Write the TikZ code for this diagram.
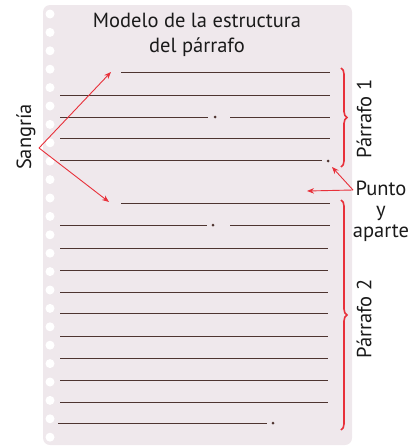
\documentclass[tikz,border=0pt]{standalone}
\usepackage{fontspec}
\setmainfont{PT Sans}
\usepackage{tikz}
\usetikzlibrary{arrows.meta,positioning,decorations.pathreplacing}
\definecolor{paper}{HTML}{EFE8EC}
\definecolor{qink}{HTML}{4E3430}
\definecolor{qred}{HTML}{E8303A}
\definecolor{qtext}{HTML}{1A1A1A}
\tikzset{
    rule/.style={qink, line width=0.8pt},
    mark dot/.style={fill=qink},
    pointer/.style={qred, line width=0.9pt, -{Stealth[length=7pt,width=5.5pt]}},
    bracket/.style={qred, line width=1.6pt, decorate, decoration={brace, amplitude=6pt}},
    label/.style={text=qtext, font=\fontsize{20.5}{21}\selectfont, inner sep=0pt}
}

\begin{document}
\begin{tikzpicture}[x=1pt, y=-1pt]
    \useasboundingbox (0,0) rectangle (419,447);
    % Sheet
    \fill[paper, rounded corners=7pt] (43,5) rectangle (352,445);
    \foreach \i in {0,...,23} {
        \fill[white] (50,14+18.4*\i) circle (4.5);
    }
    % Title
    \node[text=qtext, font=\fontsize{20.5}{25}\selectfont, align=center] (title) at (197,35) {Modelo de la estructura\\del párrafo};
    % Paragraph 1
    \draw[rule] (121,72) -- (330,72);
    \draw[rule] (60,95) -- (330,95);
    \draw[rule] (60,117) -- (208,117); \fill[mark dot] (215,117) circle (1.5); \draw[rule] (230,117) -- (330,117);
    \draw[rule] (60,138) -- (330,138);
    \draw[rule] (60,160) -- (322,160); \fill[mark dot] (328,161) circle (1.5);
    % Paragraph 2
    \draw[rule] (121,203) -- (330,203);
    \draw[rule] (60,225) -- (207,225); \fill[mark dot] (213,225) circle (1.5); \draw[rule] (230,225) -- (330,225);
    \foreach \y in {248,270,292,313,336,358,380,402} {
        \draw[rule] (60,\y) -- (328,\y);
    }
    \draw[rule] (58,423) -- (267,423); \fill[mark dot] (273,423) circle (1.5);
    % Braces
    \draw[bracket] (341,68) -- (341,167);
    \draw[bracket] (341,200) -- (341,430);
    \node[label, rotate=90] (par1) at (364,119) {Párrafo 1};
    \node[label, rotate=90] (par2) at (364,319) {Párrafo 2};
    % Sangria
    \node[label, rotate=90] (sangria) at (26,137) {Sangría};
    \coordinate (sg) at (39,148);
    \coordinate (ind1) at (111,72);
    \coordinate (ind2) at (109,202);
    \draw[pointer] (sg) -- (ind1);
    \draw[pointer] (sg) -- (ind2);
    % Punto y aparte
    \node[label, align=center] (punto) at (381,211) {Punto\\y\\aparte};
    \coordinate (pa) at (353,190);
    \coordinate (dot1) at (332,167);
    \coordinate (gap) at (307,191);
    \draw[pointer] (pa) -- (dot1);
    \draw[pointer] (pa) -- (gap);
\end{tikzpicture}
\end{document}
